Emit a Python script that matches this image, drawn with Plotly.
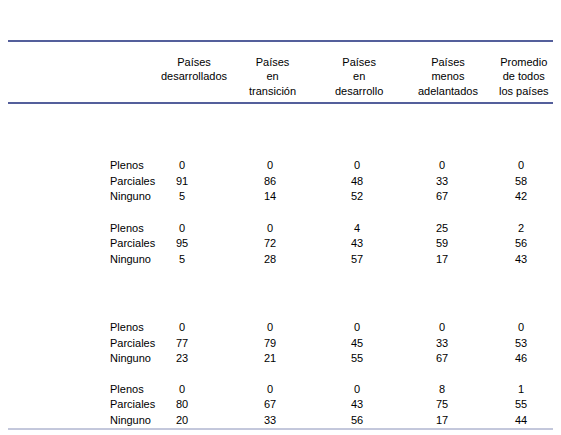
import plotly.graph_objects as go

title = "Cuadro 15.  Compromisos en materia de servicios financieros con respecto al modo 4, por grupos de países"
subtitle = "(Porcentaje  de  compromisos)"
headers = ["Países<br>desarrollados", "Países<br>en<br>transición", "Países<br>en<br>desarrollo",
           "Países<br>menos<br>adelantados", "Promedio<br>de todos<br>los países"]
sub_labels = ["Plenos", "Parciales", "Ninguno"]

ma_seguros = [[0, 0, 0, 0, 0], [91, 86, 48, 33, 58], [5, 14, 52, 67, 42]]
ma_bancarios = [[0, 0, 4, 25, 2], [95, 72, 43, 59, 56], [5, 28, 57, 17, 43]]
tn_seguros = [[0, 0, 0, 0, 0], [77, 79, 45, 33, 53], [23, 21, 55, 67, 46]]
tn_bancarios = [[0, 0, 0, 8, 1], [80, 67, 43, 75, 55], [20, 33, 56, 17, 44]]

col_x = [182, 270, 357, 442, 521]
head_x = [194, 272, 359, 448, 524]
font = "Liberation Sans"

fig = go.Figure()
ann = []


def text(x, y, s, anchor="left", size=11, color="black", bold=False):
    if bold:
        s = "<b>" + s + "</b>"
    ann.append(dict(x=x, y=y, text=s, xanchor=anchor, yanchor="middle", showarrow=False,
                    font=dict(family=font, size=size, color=color)))


text(6, 12, title, size=11.3, color="#1b2a7a")
text(6, 30, "<i>" + subtitle + "</i>", size=10, color="#1b2a7a")
for x, h in zip(head_x, headers):
    ann.append(dict(x=x, y=62, text=h, xanchor="center", yanchor="top", showarrow=False,
                    yshift=8, font=dict(family=font, size=11, color="black")))


def block(y0, lines, data):
    y = y0
    for ln in lines[:-1]:
        text(6, y, ln)
        y += 15.5
    text(6, y, lines[-1])
    for lab, vals in zip(sub_labels, data):
        text(108, y, lab)
        for x, v in zip(col_x, vals):
            text(x, y, str(v), anchor="center")
        y += 15.5
    return y


text(6, 118, "Acceso a los mercados:", bold=True)
block(134, ["Todos los servicios de seguros", "y relacionados", "con seguros"], ma_seguros)
block(212, ["Servicios bancarios y otros", "servicios financieros"], ma_bancarios)
text(6, 278, "Trato nacional:", bold=True)
block(296, ["Todos los servicios de seguros", "y relacionados", "con seguros"], tn_seguros)
block(373, ["Servicios bancarios y otros", "servicios financieros"], tn_bancarios)

shapes = [
    dict(type="line", x0=0, x1=561, y0=41, y1=41, line=dict(color="#1b2a7a", width=1.5)),
    dict(type="line", x0=0, x1=561, y0=103, y1=103, line=dict(color="#1b2a7a", width=1.5)),
    dict(type="line", x0=0, x1=561, y0=429, y1=429, line=dict(color="#8890b8", width=1)),
]

# page body has an 8px margin, so the figure is drawn 8px smaller and offset
fig.update_layout(
    width=553, height=427, margin=dict(l=0, r=0, t=0, b=0),
    paper_bgcolor="white", plot_bgcolor="white",
    xaxis=dict(range=[8, 561], visible=False, fixedrange=True),
    yaxis=dict(range=[435, 8], visible=False, fixedrange=True),
    annotations=ann, shapes=shapes, showlegend=False,
)
fig.write_html("out.html")
